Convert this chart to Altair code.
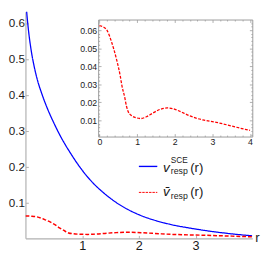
import altair as alt
import pandas as pd

# ---- data ----
r_sce = [0.0, 0.02, 0.05, 0.1, 0.15, 0.2, 0.3, 0.4, 0.5, 0.6, 0.8, 1.0, 1.2, 1.4,
         1.6, 1.8, 2.0, 2.5, 3.0, 3.5, 4.0]
v_sce = [0.68, 0.635, 0.585, 0.525, 0.482, 0.448, 0.398, 0.357, 0.322, 0.290, 0.236,
         0.190, 0.153, 0.124, 0.100, 0.081, 0.066, 0.041, 0.026, 0.015, 0.007]

r_bar = [0.0, 0.1, 0.2, 0.33, 0.46, 0.55, 0.6, 0.67, 0.72, 0.76, 0.85, 1.0, 1.1, 1.25,
         1.4, 1.6, 1.8, 1.95, 2.08, 2.4, 2.6, 2.8, 3.1, 3.5, 3.87, 4.0]
v_bar = [0.0625, 0.0618, 0.0600, 0.053, 0.0434, 0.035, 0.029, 0.023, 0.0178, 0.0150,
         0.0127, 0.0113, 0.0110, 0.0120, 0.0138, 0.0160, 0.0169, 0.0165, 0.0155, 0.0125,
         0.0110, 0.0100, 0.0089, 0.0069, 0.0050, 0.0044]

main_x_ticks = [1, 2, 3]
main_y_ticks = [0.1, 0.2, 0.3, 0.4, 0.5, 0.6]
inset_x_ticks = [0, 1, 2, 3, 4]
inset_y_ticks = [0.01, 0.02, 0.03, 0.04, 0.05, 0.06]
inset_x_minor = [0.2, 0.4, 0.6, 0.8, 1.2, 1.4, 1.6, 1.8, 2.2, 2.4, 2.6, 2.8,
                 3.2, 3.4, 3.6, 3.8]
inset_y_minor = [0.002, 0.004, 0.006, 0.008, 0.012, 0.014, 0.016, 0.018, 0.022, 0.024,
                 0.026, 0.028, 0.032, 0.034, 0.036, 0.038, 0.042, 0.044, 0.046, 0.048,
                 0.052, 0.054, 0.056, 0.058, 0.062, 0.064]

series_names = ["sce", "bar"]

# ---- layout (pixels) ----
W, H = 234, 233.7
XL, XR, YT, YB = 75, 234, 8, 128.7
FONT = "Liberation Sans"
AX_GRAY = "#b0b0b0"
FR_GRAY = "#9a9a9a"

main_df = pd.concat([
    pd.DataFrame({"r": r_sce, "v": v_sce, "s": "sce"}),
    pd.DataFrame({"r": r_bar, "v": v_bar, "s": "bar"}),
])
inset_df = pd.DataFrame({"r": r_bar, "v": v_bar})

mx = alt.Scale(domain=[0, 4], range=[0, W], nice=False, zero=False)
my = alt.Scale(domain=[0, 0.6316], range=[H, 0], nice=False, zero=False)
ix = alt.Scale(domain=[-0.033, 4.06], range=[XL, XR], nice=False, zero=False)
iy = alt.Scale(domain=[0.001, 0.0659], range=[YB, YT], nice=False, zero=False)

# main curves
main_lines = alt.Chart(main_df).mark_line(interpolate="monotone", clip=True).encode(
    x=alt.X("r:Q", scale=mx, axis=alt.Axis(
        orient="bottom", values=main_x_ticks, format="d", ticks=False, labelPadding=2,
        labelFontSize=13, labelFont=FONT, labelColor="#1a1a1a", domainColor=AX_GRAY,
        domainWidth=1.2, grid=False, title=None)),
    y=alt.Y("v:Q", scale=my, axis=alt.Axis(
        orient="left", values=main_y_ticks, format=".1f", ticks=False, labelPadding=1,
        labelFontSize=12, labelFont=FONT, labelColor="#1a1a1a", domainColor=AX_GRAY,
        domainWidth=1.2, grid=False, title=None)),
    color=alt.Color("s:N", scale=alt.Scale(domain=series_names, range=["#0000ff", "#ff0000"]), legend=None),
    strokeDash=alt.StrokeDash("s:N", scale=alt.Scale(domain=series_names, range=[[1, 0], [4, 2]]), legend=None),
    strokeWidth=alt.StrokeWidth("s:N", scale=alt.Scale(domain=series_names, range=[1.3, 1.5]), legend=None),
)

# inward ticks of the main axes
main_ticks = alt.Chart(main_df).mark_line(opacity=0).encode(
    x=alt.X("r:Q", scale=mx, axis=alt.Axis(
        orient="top", offset=-H, values=main_x_ticks, labels=False, domain=False,
        tickSize=3, tickColor=AX_GRAY, tickWidth=1, grid=False, title=None)),
    y=alt.Y("v:Q", scale=my, axis=alt.Axis(
        orient="right", offset=-W, values=main_y_ticks, labels=False, domain=False,
        tickSize=3, tickColor=AX_GRAY, tickWidth=1, grid=False, title=None)),
)

# inset curve with labelled bottom/left frame
inset_line = alt.Chart(inset_df).mark_line(
    interpolate="monotone", color="#ff0000", strokeDash=[3, 1.5], strokeWidth=1.3
).encode(
    x=alt.X("r:Q", scale=ix, axis=alt.Axis(
        orient="bottom", offset=-(H - YB), values=inset_x_ticks, format="d", ticks=False,
        labelPadding=1.5, labelFontSize=9, labelFont=FONT, labelColor="#1a1a1a",
        domainColor=FR_GRAY, domainWidth=1, grid=False, title=None)),
    y=alt.Y("v:Q", scale=iy, axis=alt.Axis(
        orient="left", offset=-XL, values=inset_y_ticks, format=".2f", ticks=False,
        labelPadding=1.5, labelFontSize=9, labelFont=FONT, labelColor="#1a1a1a",
        domainColor=FR_GRAY, domainWidth=1, grid=False, title=None)),
)


def frame_ticks(xvals, yvals, size, with_domain):
    return alt.Chart(inset_df).mark_line(opacity=0).encode(
        x=alt.X("r:Q", scale=ix, axis=alt.Axis(
            orient="bottom", offset=-(H - YT), values=xvals, labels=False,
            domain=with_domain, domainColor=FR_GRAY, domainWidth=1,
            tickSize=size, tickColor=FR_GRAY, tickWidth=0.8, grid=False, title=None)),
        y=alt.Y("v:Q", scale=iy, axis=alt.Axis(
            orient="left", offset=-XR, values=yvals, labels=False,
            domain=with_domain, domainColor=FR_GRAY, domainWidth=1,
            tickSize=size, tickColor=FR_GRAY, tickWidth=0.8, grid=False, title=None)),
    )


def inner_ticks(xvals, yvals, size):
    return alt.Chart(inset_df).mark_line(opacity=0).encode(
        x=alt.X("r:Q", scale=ix, axis=alt.Axis(
            orient="top", offset=-YB, values=xvals, labels=False, domain=False,
            tickSize=size, tickColor=FR_GRAY, tickWidth=0.8, grid=False, title=None)),
        y=alt.Y("v:Q", scale=iy, axis=alt.Axis(
            orient="right", offset=-(W - XL), values=yvals, labels=False, domain=False,
            tickSize=size, tickColor=FR_GRAY, tickWidth=0.8, grid=False, title=None)),
    )


one = pd.DataFrame({"a": [0]})

legend_blue = alt.Chart(one).mark_rule(color="#0000ff", strokeWidth=1.4).encode(
    x=alt.value(117), x2=alt.value(136), y=alt.value(159.5))
legend_red = alt.Chart(one).mark_rule(color="#ff0000", strokeWidth=1, strokeDash=[2.5, 1]).encode(
    x=alt.value(117), x2=alt.value(136), y=alt.value(186.3))


def txt(s, x, y, size, style="normal"):
    return alt.Chart(one).mark_text(
        text=s, align="left", baseline="alphabetic", font=FONT, fontSize=size,
        fontStyle=style, color="#1a1a1a"
    ).encode(x=alt.value(x), y=alt.value(y))


texts = [
    txt("v", 142, 165, 14, "italic"),
    txt("SCE", 150, 156, 8.5),
    txt("resp", 150, 167, 9),
    txt("(r)", 170, 165, 13.5),
    txt("v\u0304", 142, 190, 14, "italic"),
    txt("resp", 150, 193.5, 9),
    txt("(r)", 170, 190, 13.5),
    txt("r", 237, 237, 13.5),
]

chart = alt.layer(
    main_ticks,
    main_lines,
    inset_line,
    inner_ticks(inset_x_ticks, inset_y_ticks, 3),
    inner_ticks(inset_x_minor, inset_y_minor, 1.5),
    frame_ticks(inset_x_ticks, inset_y_ticks, 3, True),
    frame_ticks(inset_x_minor, inset_y_minor, 1.5, False),
    legend_blue,
    legend_red,
    *texts,
).resolve_scale(x="independent", y="independent").resolve_axis(
    x="independent", y="independent"
).properties(
    width=W, height=H,
    autosize=alt.AutoSizeParams(type="none"),
    padding={"left": 18, "top": 0, "right": 10, "bottom": 15},
    background="white",
).configure_view(stroke=None)

chart.save("out.html", embed_options={"renderer": "svg", "actions": False})
